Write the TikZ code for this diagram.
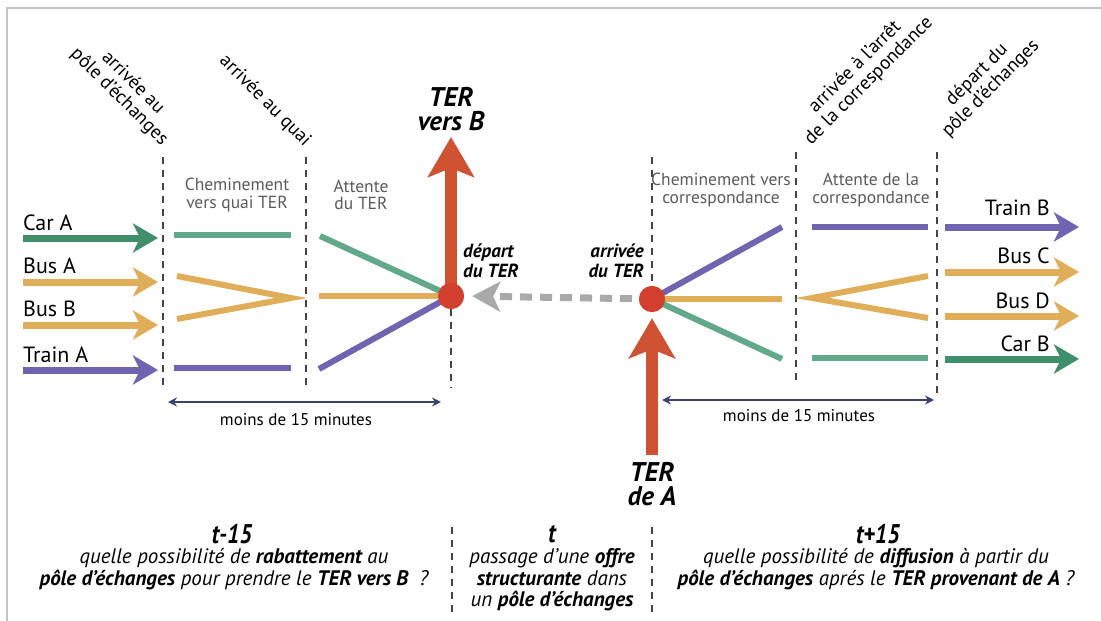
\documentclass[tikz,border=0pt]{standalone}
\usepackage{fontspec}
\setmainfont{PT Sans}
\newfontfamily\cond[FakeStretch=0.85]{PT Sans}
\usetikzlibrary{arrows.meta}
\definecolor{cgreen}{HTML}{3F8F6B}
\definecolor{lgreen}{HTML}{62A98B}
\definecolor{cyellow}{HTML}{E0AD58}
\definecolor{cpurple}{HTML}{7064B0}
\definecolor{cred}{HTML}{CF5332}
\definecolor{ccircle}{HTML}{D33F2E}
\definecolor{cgray}{HTML}{A9A9A9}
\definecolor{cnavy}{HTML}{3A4370}
\definecolor{dgray}{HTML}{444444}
\definecolor{tgray}{HTML}{5A5A5A}
\definecolor{frame}{HTML}{C4C4C4}
\tikzset{
  vdash/.style={draw=dgray, line width=1.5pt, dash pattern=on 7pt off 6pt},
  seg/.style={line width=6pt},
  inarrow/.style={line width=7pt, -{Stealth[length=25pt,width=29pt,inset=7pt]}},
  redarrow/.style={draw=cred, line width=12pt, -{Stealth[length=40pt,width=46pt,inset=9pt]}},
  grayarrow/.style={draw=cgray, line width=7pt, dash pattern=on 12pt off 8pt, -{Stealth[length=28pt,width=30pt,inset=7pt]}},
  dimarrow/.style={draw=cnavy, line width=2pt, {Stealth[length=9pt,width=9pt]}-{Stealth[length=9pt,width=9pt]}},
  hub/.style={circle, fill=ccircle, minimum size=26pt, inner sep=0pt},
  lbl/.style={inner sep=0pt, font=\fontsize{22}{22}\selectfont},
  rot/.style={inner sep=0pt, align=center, font=\fontsize{19}{19.5}\selectfont},
  grt/.style={inner sep=0pt, align=center, text=tgray, font=\fontsize{17.5}{17.5}\selectfont},
  bi/.style={inner sep=0pt, font=\fontsize{19}{19.5}\selectfont\bfseries\itshape},
  big/.style={inner sep=0pt, align=center, font=\fontsize{27}{24}\selectfont\bfseries\itshape},
  dur/.style={inner sep=0pt, font=\fontsize{17}{18}\selectfont},
  ttl/.style={inner sep=0pt, font=\cond\fontsize{27}{27}\selectfont\bfseries\itshape},
  body/.style={inner sep=0pt, align=center, font=\fontsize{21}{21.5}\selectfont\itshape},
}
\begin{document}
\begin{tikzpicture}[x=1pt,y=-1pt]
\useasboundingbox (0,0) rectangle (1101,621);
% frame
\draw[frame, line width=2pt] (7,621) -- (7,8) -- (1101,8);

% hubs (positions)
\node[hub] (C1) at (451,296) {};
\node[hub] (C2) at (652,299) {};

% vertical dashed lines
\coordinate (L1t) at (163,157); \coordinate (L1b) at (163,388);
\coordinate (L2t) at (306,157); \coordinate (L2b) at (306,388);
\coordinate (L3b) at (451,388);
\coordinate (R1t) at (652,157);
\coordinate (R2t) at (796,152); \coordinate (R2b) at (796,383);
\coordinate (R3t) at (937,152); \coordinate (R3b) at (937,398);
\draw[vdash] (L1t) -- (L1b);
\draw[vdash] (L2t) -- (L2b);
\draw[vdash] (C1.south) -- (L3b);
\draw[vdash] (R1t) -- (C2.north);
\draw[vdash] (R2t) -- (R2b);
\draw[vdash] (R3t) -- (R3b);
\coordinate (S1t) at (452,527); \coordinate (S1b) at (452,615);
\coordinate (S2t) at (652,527); \coordinate (S2b) at (652,615);
\draw[vdash] (S1t) -- (S1b);
\draw[vdash] (S2t) -- (S2b);

% rotated headers
\node[rot, rotate=-45] (h1) at (126,90) {arrivée au\\pôle d'échanges};
\node[rot, rotate=-45] (h2) at (265,101) {arrivée au quai};
\node[rot, rotate=45] (h3) at (862,74) {arrivée à l'arrêt\\de la correspondance};
\node[rot, rotate=45] (h4) at (984,82) {départ du\\pôle d'échanges};

% grey phase texts
\node[grt] (p1) at (237,195) {Cheminement\\vers quai TER};
\node[grt] (p2) at (361,195) {Attente\\du TER};
\node[grt] (p3) at (721,190) {Cheminement vers\\correspondance};
\node[grt] (p4) at (871,190) {Attente de la\\correspondance};

% incoming arrows
\coordinate (a1s) at (23,238); \coordinate (a1e) at (158,238);
\coordinate (a2s) at (23,282); \coordinate (a2e) at (158,282);
\coordinate (a3s) at (23,325); \coordinate (a3e) at (158,325);
\coordinate (a4s) at (23,370); \coordinate (a4e) at (158,370);
\draw[inarrow, cgreen] (a1s) -- (a1e);
\draw[inarrow, cyellow] (a2s) -- (a2e);
\draw[inarrow, cyellow] (a3s) -- (a3e);
\draw[inarrow, cpurple] (a4s) -- (a4e);
\node[lbl, anchor=base west] (carA) at (23,230) {Car A};
\node[lbl, anchor=base west] (busA) at (23,273) {Bus A};
\node[lbl, anchor=base west] (busB) at (23,316) {Bus B};
\node[lbl, anchor=base west] (trA) at (23,362) {Train A};

% left phase 1
\coordinate (g1a) at (174,235); \coordinate (g1b) at (291,235);
\coordinate (y1a) at (177,276); \coordinate (y1v) at (291,298); \coordinate (y1c) at (177,319);
\coordinate (p1a) at (174,368); \coordinate (p1b) at (291,368);
\draw[seg, lgreen] (g1a) -- (g1b);
\draw[seg, cyellow] (y1a) -- (y1v) -- (y1c);
\draw[seg, cpurple] (p1a) -- (p1b);
% left phase 2
\coordinate (g2a) at (320,236);
\coordinate (y2a) at (319,296);
\coordinate (p2a) at (319,369);
\draw[seg, lgreen] (g2a) -- (C1.center);
\draw[seg, cyellow] (y2a) -- (C1.center);
\draw[seg, cpurple] (p2a) -- (C1.center);

% right phase 1
\coordinate (q1) at (782,227);
\coordinate (q2) at (782,299);
\coordinate (q3) at (782,359);
\draw[seg, cpurple] (C2.center) -- (q1);
\draw[seg, cyellow] (C2.center) -- (q2);
\draw[seg, lgreen] (C2.center) -- (q3);
% right phase 2
\coordinate (r1a) at (812,227); \coordinate (r1b) at (928,227);
\coordinate (r2a) at (928,276); \coordinate (r2v) at (812,298); \coordinate (r2c) at (928,318);
\coordinate (r3a) at (812,358); \coordinate (r3b) at (928,358);
\draw[seg, cpurple] (r1a) -- (r1b);
\draw[seg, cyellow] (r2a) -- (r2v) -- (r2c);
\draw[seg, lgreen] (r3a) -- (r3b);

% outgoing arrows
\coordinate (o1s) at (945,227); \coordinate (o1e) at (1079,227);
\coordinate (o2s) at (945,272); \coordinate (o2e) at (1079,272);
\coordinate (o3s) at (945,316); \coordinate (o3e) at (1079,316);
\coordinate (o4s) at (945,359); \coordinate (o4e) at (1079,359);
\draw[inarrow, cpurple] (o1s) -- (o1e);
\draw[inarrow, cyellow] (o2s) -- (o2e);
\draw[inarrow, cyellow] (o3s) -- (o3e);
\draw[inarrow, cgreen] (o4s) -- (o4e);
\node[lbl, anchor=base east] (trB) at (1050,215) {Train B};
\node[lbl, anchor=base east] (busC) at (1050,263) {Bus C};
\node[lbl, anchor=base east] (busD) at (1050,308) {Bus D};
\node[lbl, anchor=base east] (carB) at (1050,351) {Car B};

% grey dashed transfer arrow
\draw[grayarrow, shorten >=8pt] (C2.center) -- (C1.east);

% red TER arrows
\node[big] (TERB) at (451,109) {TER\\vers B};
\coordinate (TBtip) at (451,137);
\draw[redarrow] (C1.center) -- (TBtip);
\node[big] (TERA) at (652,484) {TER\\de A};
\coordinate (TAbase) at (652,455);
\draw[redarrow, shorten >=6pt] (TAbase) -- (C2.south);

% hubs on top
\node[hub] at (C1) {};
\node[hub] at (C2) {};
\node[bi, anchor=west, align=left] (dep) at (463,261) {départ\\du TER};
\node[bi, anchor=east, align=right] (arr) at (644,261) {arrivée\\du TER};

% durations
\coordinate (d1a) at (168,402); \coordinate (d1b) at (441,402);
\coordinate (d2a) at (662,400); \coordinate (d2b) at (934,400);
\draw[dimarrow] (d1a) -- (d1b);
\draw[dimarrow] (d2a) -- (d2b);
\node[dur] (m1) at (296,420) {moins de 15 minutes};
\node[dur] (m2) at (799,416) {moins de 15 minutes};

% bottom texts
\node[ttl] (t1) at (232,534) {t-15};
\node[body] (b1) at (234,569) {quelle possibilité de \textbf{rabattement} au\\\textbf{pôle d'échanges} pour prendre le \textbf{TER vers B} ~?};
\node[ttl] (t2) at (552,534) {t};
\node[body] (b2) at (552,580) {passage d'une \textbf{offre}\\\textbf{structurante} dans\\un \textbf{pôle d'échanges}};
\node[ttl] (t3) at (878,534) {t+15};
\node[body] (b3) at (876,569) {quelle possibilité de \textbf{diffusion} à partir du\\\textbf{pôle d'échanges} aprés le \textbf{TER provenant de A} ?};
\end{tikzpicture}
\end{document}
